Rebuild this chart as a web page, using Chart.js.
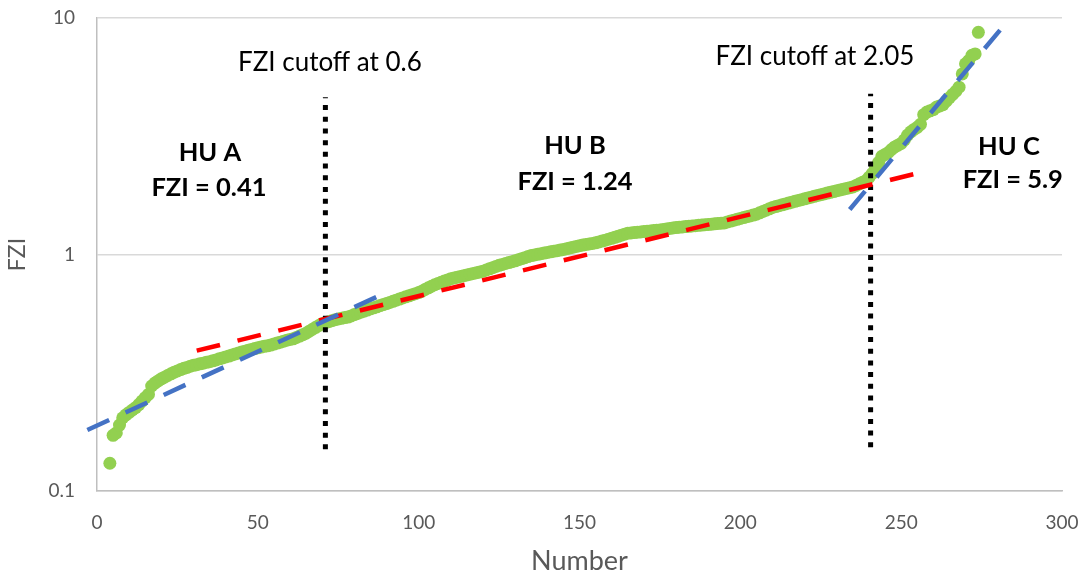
<!DOCTYPE html>
<html>
<head>
<meta charset="utf-8">
<script src="https://cdn.jsdelivr.net/npm/chart.js@4"></script>
<style>
  html, body { margin: 0; padding: 0; background: #fff; }
  #wrap { width: 1089px; height: 578px; }
</style>
</head>
<body>
<div id="wrap"><canvas id="fziChart" width="1089" height="578"></canvas></div>
<script>
// FZI values sorted ascending, sample numbers start at 4
const firstNumber = 4;
const fziValues = [
  0.131, 0.172, 0.176, 0.19, 0.204, 0.21, 0.215, 0.22, 0.225, 0.232,
  0.24, 0.248, 0.256, 0.278, 0.286, 0.292, 0.298, 0.303, 0.308, 0.313,
  0.318, 0.322, 0.326, 0.33, 0.333, 0.337, 0.34, 0.342, 0.345, 0.347,
  0.35, 0.352, 0.355, 0.358, 0.362, 0.365, 0.369, 0.372, 0.376, 0.38,
  0.383, 0.387, 0.39, 0.394, 0.397, 0.4, 0.403, 0.406, 0.409, 0.411,
  0.414, 0.418, 0.422, 0.426, 0.43, 0.434, 0.437, 0.44, 0.446, 0.452,
  0.458, 0.465, 0.474, 0.483, 0.492, 0.501, 0.51, 0.515, 0.52, 0.525,
  0.53, 0.534, 0.537, 0.541, 0.544, 0.55, 0.557, 0.563, 0.57, 0.576,
  0.582, 0.589, 0.595, 0.601, 0.608, 0.614, 0.62, 0.627, 0.634, 0.641,
  0.648, 0.655, 0.662, 0.669, 0.676, 0.683, 0.69, 0.7, 0.712, 0.723,
  0.734, 0.745, 0.754, 0.763, 0.772, 0.781, 0.79, 0.796, 0.802, 0.808,
  0.814, 0.82, 0.826, 0.832, 0.838, 0.844, 0.85, 0.86, 0.87, 0.88,
  0.89, 0.9, 0.908, 0.916, 0.924, 0.932, 0.94, 0.95, 0.96, 0.97,
  0.98, 0.99, 0.996, 1.002, 1.008, 1.014, 1.02, 1.026, 1.032, 1.038,
  1.044, 1.05, 1.058, 1.066, 1.074, 1.082, 1.09, 1.096, 1.102, 1.108,
  1.114, 1.12, 1.13, 1.14, 1.15, 1.16, 1.17, 1.182, 1.194, 1.206,
  1.218, 1.23, 1.234, 1.238, 1.242, 1.246, 1.25, 1.254, 1.258, 1.262,
  1.266, 1.27, 1.276, 1.282, 1.288, 1.294, 1.3, 1.304, 1.308, 1.312,
  1.316, 1.32, 1.324, 1.328, 1.332, 1.336, 1.34, 1.344, 1.348, 1.352,
  1.356, 1.36, 1.372, 1.384, 1.396, 1.408, 1.42, 1.432, 1.444, 1.456,
  1.468, 1.48, 1.5, 1.52, 1.54, 1.56, 1.58, 1.594, 1.608, 1.622,
  1.636, 1.65, 1.664, 1.678, 1.692, 1.706, 1.72, 1.734, 1.748, 1.762,
  1.776, 1.79, 1.804, 1.818, 1.832, 1.846, 1.86, 1.874, 1.888, 1.902,
  1.916, 1.93, 1.96, 1.99, 2.02, 2.05, 2.12, 2.2, 2.32, 2.45,
  2.6, 2.65, 2.7, 2.78, 2.85, 2.9, 2.95, 3.05, 3.2, 3.3,
  3.38, 3.45, 3.55, 3.9, 4.0, 4.05, 4.1, 4.2, 4.25, 4.3,
  4.45, 4.6, 4.75, 4.9, 5.1, 5.8, 6.4, 6.6, 6.95, 7.05,
  8.7
];

// trend lines (end points)
const trendAX = [-3, 88];
const trendAY = [0.181, 0.672];
const trendBX = [31, 257];
const trendBY = [0.392, 2.24];
const trendCX = [234, 281.3];
const trendCY = [1.55, 9.07];

// cutoff lines
const cutoffX = [71, 240.5];
const cutoffY = [[0.15, 4.62], [0.153, 4.78]];

const xTicks = [0, 50, 100, 150, 200, 250, 300];
const yTicks = [0.1, 1, 10];

const points = fziValues.map((v, i) => ({ x: firstNumber + i, y: v }));
const seg = (xs, ys) => xs.map((x, i) => ({ x: x, y: ys[i] }));

const FONT = 'Lato, "Open Sans", sans-serif';

// text labels drawn over the plot, placed in data units
const notes = [
  { text: 'FZI cutoff at 0.6', x: 72.4, y: 6.46, bold: false },
  { text: 'FZI cutoff at 2.05', x: 223.2, y: 6.84, bold: false },
  { text: 'HU A', x: 35.1, y: 2.69, bold: true },
  { text: 'FZI = 0.41', x: 34.8, y: 1.91, bold: true },
  { text: 'HU B', x: 148.6, y: 2.88, bold: true },
  { text: 'FZI = 1.24', x: 148.6, y: 2.03, bold: true },
  { text: 'HU C', x: 283.5, y: 2.85, bold: true },
  { text: 'FZI = 5.9', x: 284.7, y: 2.07, bold: true }
];

const notesPlugin = {
  id: 'notes',
  afterDatasetsDraw(chart) {
    const { ctx, scales } = chart;
    ctx.save();
    ctx.textAlign = 'center';
    ctx.textBaseline = 'middle';
    ctx.fillStyle = '#000';
    notes.forEach((n) => {
      ctx.font = (n.bold ? 'bold 25.5px ' : '26px ') + FONT;
      ctx.fillText(n.text, scales.x.getPixelForValue(n.x), scales.y.getPixelForValue(n.y));
    });
    ctx.restore();
  }
};

const dashed = (data, color) => ({
  data: data,
  showLine: true,
  pointRadius: 0,
  borderColor: color,
  borderWidth: 4.5,
  borderDash: [24, 18],
  borderCapStyle: 'butt',
  order: 1,
  clip: false
});

const dotted = (data) => ({
  data: data,
  showLine: true,
  pointRadius: 0,
  borderColor: '#000',
  borderWidth: 5,
  borderDash: [5, 6.7],
  borderCapStyle: 'butt',
  order: 2
});

new Chart(document.getElementById('fziChart'), {
  type: 'scatter',
  data: {
    datasets: [
      dotted(seg([cutoffX[0], cutoffX[0]], cutoffY[0])),
      dotted(seg([cutoffX[1], cutoffX[1]], cutoffY[1])),
      dashed(seg(trendAX, trendAY), '#4472c4'),
      dashed(seg(trendBX, trendBY), '#ff0000'),
      dashed(seg(trendCX, trendCY), '#4472c4'),
      {
        data: points,
        pointRadius: 6.5,
        pointBorderWidth: 0,
        pointBackgroundColor: '#92d050',
        pointBorderColor: '#92d050',
        order: 5
      }
    ]
  },
  options: {
    responsive: false,
    animation: false,
    layout: { padding: { left: 0, right: 27, top: 18, bottom: 0 } },
    plugins: {
      legend: { display: false },
      tooltip: { enabled: false }
    },
    scales: {
      x: {
        type: 'linear',
        min: 0,
        max: 300,
        afterBuildTicks: (s) => { s.ticks = xTicks.map((v) => ({ value: v })); },
        afterFit: (s) => { s.height = 87; s.paddingLeft = 0; s.paddingRight = 0; },
        grid: { display: false, drawTicks: false },
        border: { display: true, color: '#bfbfbf', width: 1.5 },
        ticks: { color: '#595959', font: { family: FONT, size: 19 }, padding: 20, maxRotation: 0 },
        title: { display: true, text: 'Number', color: '#595959', font: { family: FONT, size: 27 }, padding: { top: 4, bottom: 1 } }
      },
      y: {
        type: 'logarithmic',
        min: 0.1,
        max: 10,
        afterBuildTicks: (s) => { s.ticks = yTicks.map((v) => ({ value: v })); },
        afterFit: (s) => { s.width = 97; s.paddingTop = 0; s.paddingBottom = 0; },
        grid: { color: '#d9d9d9', lineWidth: 1.5, drawTicks: false },
        border: { display: true, color: '#bfbfbf', width: 1.5 },
        ticks: {
          color: '#595959',
          font: { family: FONT, size: 19 },
          padding: 22,
          callback: (v) => String(v)
        },
        title: { display: true, text: 'FZI', color: '#595959', font: { family: FONT, size: 23 }, padding: { top: 4, bottom: 4 } }
      }
    }
  },
  plugins: [notesPlugin]
});
</script>
</body>
</html>
